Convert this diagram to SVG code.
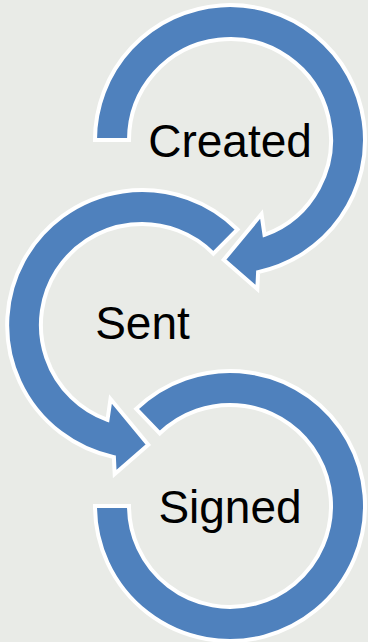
<svg xmlns="http://www.w3.org/2000/svg" width="368" height="642" viewBox="0 0 368 642">
  <style>
    .arc { fill: #4f81bd; stroke: #ffffff; stroke-width: 4; stroke-linejoin: miter; }
    .lbl { font-family: "Liberation Sans", Arial, sans-serif; font-size: 46px; fill: #000000; text-anchor: middle; }
  </style>
  <rect x="0" y="0" width="368" height="642" fill="#e9ebe7"/>
  <g id="node-created">
    <path class="arc" d="M 95,140 A 135 135 0 1 1 258.1,272.1 L 257.3,289 L 223.7,259.8 L 261.5,214.1 L 264.5,234.9 A 101 101 0 1 0 129,140 Z"/>
    <text class="lbl" x="230" y="157">Created</text>
  </g>
  <g id="node-sent">
    <path class="arc" d="M 237.5,229.5 A 135 135 0 1 0 113.9,457.1 L 114.7,474 L 148.3,444.8 L 110.5,399.1 L 107.5,419.9 A 101 101 0 1 1 213.4,253.6 Z"/>
    <text class="lbl" x="142.5" y="339">Sent</text>
  </g>
  <g id="node-signed">
    <path class="arc" d="M 95,506 A 135 135 0 1 0 136.2,408.9 L 159.8,433.3 A 101 101 0 1 1 129,506 Z"/>
    <text class="lbl" x="230" y="522.5">Signed</text>
  </g>
  <g id="connectors"></g>
</svg>
